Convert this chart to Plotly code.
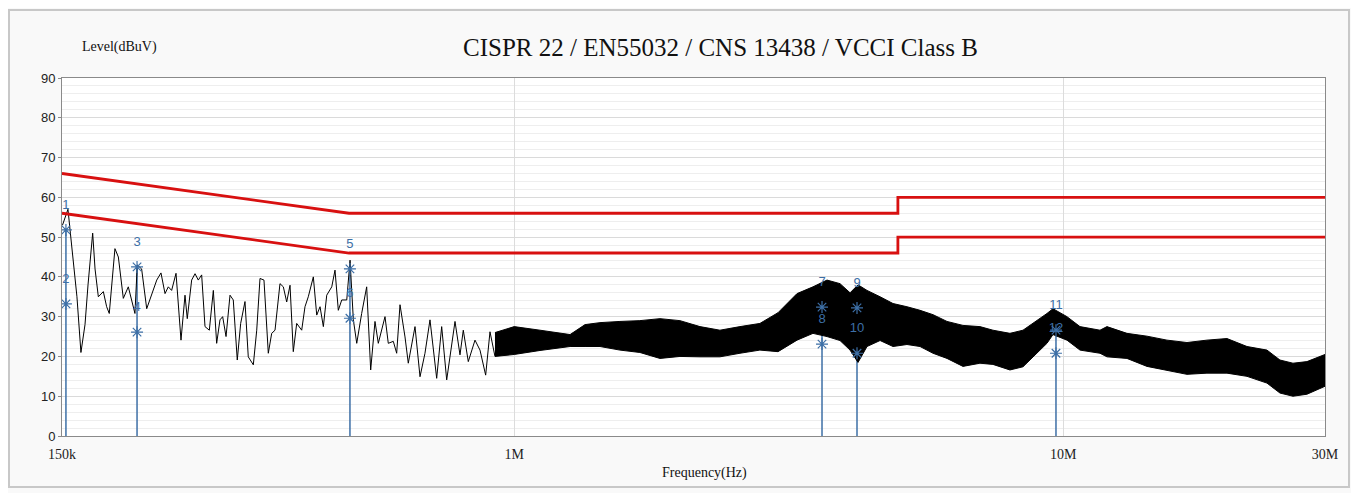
import plotly.graph_objects as go

# ---------------- data ----------------
# low-frequency part of the measured trace (kHz, dBuV)
trace_freq_khz = [150.3, 151.9, 153.8, 155.1, 157.1, 159.7, 162.4, 165.2, 167.3, 170.6,
                  172.3, 174.7, 178.4, 180.9, 182.9, 187.3, 190.0, 194.0, 198.1, 200.9,
                  203.7, 205.7, 209.5, 214.0, 218.5, 223.2, 227.2, 231.1, 234.3, 237.6,
                  242.0, 247.1, 251.3, 253.7, 258.4, 262.1, 265.7, 269.5, 273.3, 278.3,
                  283.0, 287.0, 291.0, 294.3, 298.5, 303.5, 307.7, 312.9, 317.4, 323.2,
                  327.7, 334.7, 339.5, 344.2, 350.0, 356.4, 361.5, 366.6, 374.3, 379.6,
                  385.0, 390.4, 395.8, 401.5, 410.0, 415.7, 421.5, 430.5, 436.7, 442.8,
                  449.0, 455.4, 465.1, 471.5, 478.1, 485.0, 495.3, 502.2, 509.2, 516.5,
                  527.3, 538.5, 547.6, 557.6, 565.4, 581.5, 589.6, 602.1, 610.7, 619.3,
                  632.4, 641.2, 659.5, 673.5, 687.7, 702.3, 722.3, 737.6, 753.3, 780.0,
                  796.5, 807.6, 824.7, 848.2, 866.2, 887.1, 903.3, 922.4]
trace_level = [53.0, 55.0, 57.0, 52.0, 45.0, 35.0, 21.0, 28.0, 38.0, 51.0,
               42.0, 35.0, 36.3, 32.5, 30.8, 47.1, 45.0, 34.6, 37.5, 33.8,
               30.8, 43.0, 42.0, 32.0, 35.4, 39.2, 41.0, 35.8, 37.5, 36.6,
               40.9, 24.1, 35.4, 29.5, 39.2, 40.8, 39.2, 40.5, 27.5, 26.6,
               36.6, 23.3, 29.2, 30.0, 25.0, 35.4, 34.2, 19.1, 28.3, 33.8,
               19.9, 17.9, 26.6, 39.6, 39.2, 20.8, 25.8, 26.6, 38.3, 37.5,
               33.7, 37.9, 21.2, 28.3, 26.6, 32.5, 35.0, 40.0, 30.4, 32.5,
               27.5, 35.4, 37.5, 41.7, 31.6, 34.2, 34.2, 44.2, 29.2, 23.3,
               30.8, 37.5, 16.6, 28.8, 23.3, 30.0, 23.3, 23.8, 20.8, 33.0,
               24.9, 18.3, 27.5, 14.9, 20.8, 29.2, 14.5, 27.5, 14.1, 28.8,
               20.4, 26.6, 18.7, 24.1, 21.6, 15.3, 26.2, 20.0]

# dense high-frequency part: envelope of the noise band (kHz, dBuV)
band_freq_khz = [922.4, 1000, 1114, 1264, 1346, 1433, 1558, 1694, 1843, 2004,
                 2180, 2370, 2578, 2803, 3024, 3275, 3502, 3714, 3922, 4091,
                 4230, 4393, 4640, 4899, 5194, 5486, 5794, 6144, 6570, 7055,
                 7450, 8001, 8451, 8813, 9345, 9583, 10163, 10733, 11673, 12020,
                 13072, 14215, 15459, 16813, 18284, 19884, 21627, 23517, 24833, 26228,
                 27813, 30000]
band_upper = [26.0, 27.5, 26.6, 25.5, 28.0, 28.5, 28.8, 29.0, 29.5, 29.0,
              27.5, 26.6, 27.5, 28.3, 31.0, 35.8, 37.5, 39.2, 38.3, 36.0,
              38.0, 36.6, 35.0, 33.3, 32.5, 31.6, 30.5, 28.8, 27.8, 27.5,
              26.6, 25.8, 26.6, 28.3, 30.8, 32.0, 30.0, 27.5, 26.6, 27.5,
              25.8, 25.1, 24.1, 23.5, 24.1, 24.5, 22.5, 21.6, 19.1, 18.3,
              18.7, 20.5]
band_lower = [20.0, 20.5, 21.5, 22.5, 22.5, 22.5, 21.6, 21.0, 19.5, 20.0,
              19.9, 19.9, 20.8, 21.6, 21.2, 24.1, 25.8, 25.0, 24.0, 21.6,
              18.5, 22.5, 24.0, 22.5, 23.0, 22.5, 20.8, 19.5, 17.5, 18.3,
              18.0, 16.6, 17.4, 19.9, 23.3, 25.5, 24.1, 21.6, 20.8, 19.9,
              19.5, 17.5, 16.5, 15.5, 15.8, 15.8, 15.0, 13.3, 10.8, 10.0,
              10.5, 12.5]

# CISPR 22 Class B limits (Hz, dBuV)
limit_freq = [150e3, 500e3, 5e6, 5e6, 30e6]
limit_qp = [66, 56, 56, 60, 60]
limit_av = [56, 46, 46, 50, 50]

# markers (kHz, dBuV)
marker_id = ["1", "2", "3", "4", "5", "6", "7", "8", "9", "10", "11", "12"]
marker_freq_khz = [152.5, 152.5, 205.5, 205.5, 502.0, 502.0,
                   3637, 3637, 4212, 4212, 9705, 9705]
marker_level = [51.8, 33.2, 42.5, 26.1, 42.0, 29.6,
                32.4, 23.1, 32.2, 20.8, 26.6, 20.8]

# axis ticks
x_major = [150e3, 1e6, 10e6, 30e6]
x_major_text = ["150k", "1M", "10M", "30M"]
x_minor = [200e3, 300e3, 400e3, 500e3, 600e3, 700e3, 800e3, 900e3,
           2e6, 3e6, 4e6, 5e6, 6e6, 7e6, 8e6, 9e6, 20e6]
y_ticks = [0, 10, 20, 30, 40, 50, 60, 70, 80, 90]

# ---------------- figure ----------------
BLUE = "#3d6fa6"
RED = "#d81010"
SERIF = "Liberation Serif, Times New Roman, serif"
SANS = "Liberation Sans, Arial, sans-serif"

fig = go.Figure()

# grid lines for minor log positions
for f in x_minor:
    fig.add_shape(type="line", xref="x", yref="paper", x0=f, x1=f, y0=0, y1=1,
                  line=dict(color="#e6e6e6", width=1), layer="below")

# marker stems
for i in range(0, len(marker_id), 2):
    top = max(marker_level[i], marker_level[i + 1])
    fig.add_trace(go.Scatter(x=[marker_freq_khz[i] * 1e3, marker_freq_khz[i] * 1e3],
                             y=[0, top], mode="lines",
                             line=dict(color=BLUE, width=1.5),
                             showlegend=False, hoverinfo="skip"))

# noise band (high frequency)
fig.add_trace(go.Scatter(x=[f * 1e3 for f in band_freq_khz], y=band_lower,
                         mode="lines", line=dict(color="black", width=1),
                         showlegend=False, hoverinfo="skip"))
fig.add_trace(go.Scatter(x=[f * 1e3 for f in band_freq_khz], y=band_upper,
                         mode="lines", line=dict(color="black", width=1),
                         fill="tonexty", fillcolor="black",
                         showlegend=False, hoverinfo="skip"))

# low-frequency trace
fig.add_trace(go.Scatter(x=[f * 1e3 for f in trace_freq_khz], y=trace_level,
                         mode="lines", line=dict(color="black", width=1),
                         showlegend=False, name="Level"))

# limits
fig.add_trace(go.Scatter(x=limit_freq, y=limit_qp, mode="lines",
                         line=dict(color=RED, width=2.8), showlegend=False, name="QP limit"))
fig.add_trace(go.Scatter(x=limit_freq, y=limit_av, mode="lines",
                         line=dict(color=RED, width=2.8), showlegend=False, name="AV limit"))

# marker asterisks
fig.add_trace(go.Scatter(x=[f * 1e3 for f in marker_freq_khz], y=marker_level,
                         mode="markers",
                         marker=dict(symbol="asterisk-open", size=10, color=BLUE,
                                     line=dict(color=BLUE, width=1.2)),
                         showlegend=False, hoverinfo="skip"))
# marker numbers
fig.add_trace(go.Scatter(x=[f * 1e3 for f in marker_freq_khz],
                         y=[v + 6.2 for v in marker_level],
                         mode="text", text=marker_id,
                         textfont=dict(family=SANS, size=13, color=BLUE),
                         showlegend=False, hoverinfo="skip"))

fig.update_layout(
    width=1351, height=485,
    margin=dict(l=54, r=34, t=70, b=57),
    paper_bgcolor="#f9f9f9",
    plot_bgcolor="white",
    showlegend=False,
    xaxis=dict(type="log", range=[5.17609, 7.47712],
               tickvals=x_major, ticktext=x_major_text,
               tickfont=dict(family=SERIF, size=14, color="#222"),
               showgrid=True, gridcolor="#dcdcdc", gridwidth=1,
               showline=True, linecolor="#8a8a8a", linewidth=1, mirror=True,
               ticks="outside", ticklen=5, tickcolor="rgba(0,0,0,0)", zeroline=False),
    yaxis=dict(range=[0, 90], tickvals=y_ticks,
               tickfont=dict(family=SANS, size=13, color="#222"),
               showgrid=True, gridcolor="#dadada", gridwidth=1,
               minor=dict(dtick=2, showgrid=True, gridcolor="#eeeeee", gridwidth=1),
               showline=True, linecolor="#8a8a8a", linewidth=1, mirror=True,
               ticks="outside", ticklen=3, tickcolor="#8a8a8a", zeroline=False),
    annotations=[
        dict(text="CISPR 22 / EN55032 / CNS 13438 / VCCI Class B",
             xref="paper", yref="paper", x=0.521, y=1.084,
             xanchor="center", yanchor="middle", showarrow=False,
             font=dict(family=SERIF, size=25, color="#111")),
        dict(text="Level(dBuV)", xref="paper", yref="paper", x=0.0143, y=1.087,
             xanchor="left", yanchor="middle", showarrow=False,
             font=dict(family=SERIF, size=14, color="#111")),
        dict(text="Frequency(Hz)", xref="paper", yref="paper", x=0.509, y=-0.103,
             xanchor="center", yanchor="middle", showarrow=False,
             font=dict(family=SERIF, size=14, color="#111")),
    ],
    shapes=[
        dict(type="rect", xref="paper", yref="paper",
             x0=-0.042, x1=1.019, y0=-0.143, y1=1.19,
             line=dict(color="#c8c8c8", width=1.5), layer="below"),
    ],
)

fig.write_html("out.html")
